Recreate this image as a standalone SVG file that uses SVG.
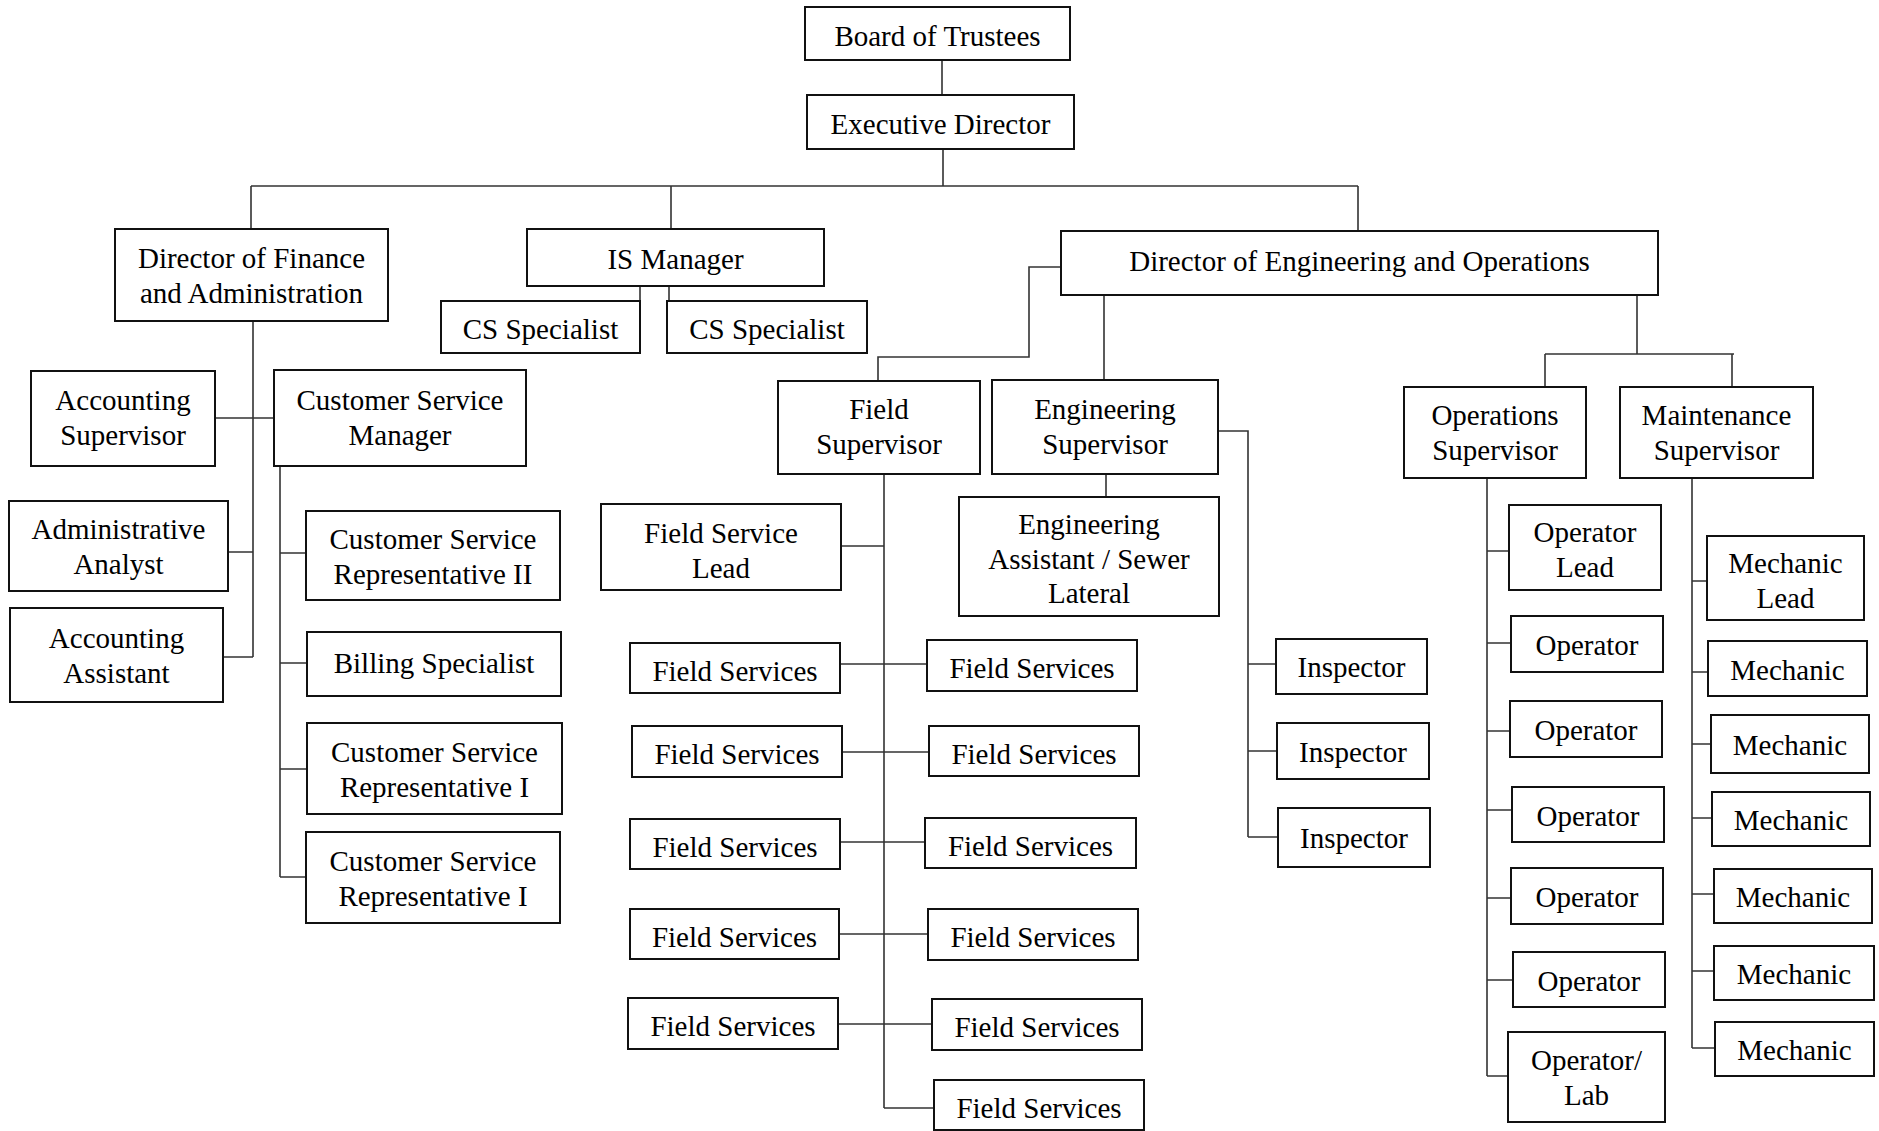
<svg xmlns="http://www.w3.org/2000/svg" width="1879" height="1131" viewBox="0 0 1879 1131">
<style>
.n rect{fill:#fff;stroke:#111;stroke-width:2}
.n text{font-family:"Liberation Serif","Times New Roman",serif;font-size:29px;fill:#000;text-anchor:middle}
#connectors path{fill:none;stroke:#333;stroke-width:1.6}
</style>
<rect width="1879" height="1131" fill="#fff"/>
<g id="connectors">
<path d="M942,60V95M943,149V186M251,186H1358M251,186V229M671,186V229M1358,186V231M640,286V301M669,286V301"/>
<path d="M1061,267H1029V357H878V381M1104,295V380M1637,295V354M1545,354H1734M1545,354V387M1732,354V387"/>
<path d="M253,321V657M215,418H274M228,552H253M223,657H253"/>
<path d="M280,466V877M280,553H306M280,663H307M280,769H307M280,877H306"/>
<path d="M884,474V1108M841,546H884M840,664H927M842,752H929M840,842H925M839,934H928M838,1024H932M884,1108H934"/>
<path d="M1106,474V497M1218,431H1248V837M1248,664H1276M1248,751H1277M1248,837H1278"/>
<path d="M1487,478V1076M1487,551H1509M1487,643H1511M1487,731H1510M1487,810H1512M1487,898H1511M1487,980H1513M1487,1076H1508"/>
<path d="M1692,478V1048M1692,581H1707M1692,672H1708M1692,744H1711M1692,818H1712M1692,894H1714M1692,971H1714M1692,1048H1715"/>
</g>
<g id="board" class="n"><rect x="805" y="7" width="265" height="53"/><text x="937.5" y="45.5">Board of Trustees</text></g>
<g id="exec" class="n"><rect x="807" y="95" width="267" height="54"/><text x="940.5" y="133.5">Executive Director</text></g>
<g id="dirfin" class="n"><rect x="115" y="229" width="273" height="92"/><text x="251.5" y="268">Director of Finance</text><text x="251.5" y="303">and Administration</text></g>
<g id="isman" class="n"><rect x="527" y="229" width="297" height="57"/><text x="675.5" y="268.5">IS Manager</text></g>
<g id="cs1" class="n"><rect x="441" y="301" width="199" height="52"/><text x="540.5" y="339">CS Specialist</text></g>
<g id="cs2" class="n"><rect x="667" y="301" width="200" height="52"/><text x="767" y="339">CS Specialist</text></g>
<g id="direng" class="n"><rect x="1061" y="231" width="597" height="64"/><text x="1359.5" y="271">Director of Engineering and Operations</text></g>
<g id="acctsup" class="n"><rect x="31" y="371" width="184" height="95"/><text x="123" y="410">Accounting</text><text x="123" y="445">Supervisor</text></g>
<g id="csm" class="n"><rect x="274" y="370" width="252" height="96"/><text x="400" y="409.5">Customer Service</text><text x="400" y="444.5">Manager</text></g>
<g id="adminan" class="n"><rect x="9" y="501" width="219" height="90"/><text x="118.5" y="538.5">Administrative</text><text x="118.5" y="573.5">Analyst</text></g>
<g id="acctasst" class="n"><rect x="10" y="608" width="213" height="94"/><text x="116.5" y="647.5">Accounting</text><text x="116.5" y="682.5">Assistant</text></g>
<g id="csr2" class="n"><rect x="306" y="511" width="254" height="89"/><text x="433" y="549">Customer Service</text><text x="433" y="584">Representative II</text></g>
<g id="billing" class="n"><rect x="307" y="632" width="254" height="64"/><text x="434" y="673">Billing Specialist</text></g>
<g id="csr1a" class="n"><rect x="307" y="723" width="255" height="91"/><text x="434.5" y="761.5">Customer Service</text><text x="434.5" y="797">Representative I</text></g>
<g id="csr1b" class="n"><rect x="306" y="832" width="254" height="91"/><text x="433" y="870.5">Customer Service</text><text x="433" y="906">Representative I</text></g>
<g id="fieldsup" class="n"><rect x="778" y="381" width="202" height="93"/><text x="879" y="419">Field</text><text x="879" y="454">Supervisor</text></g>
<g id="engsup" class="n"><rect x="992" y="380" width="226" height="94"/><text x="1105" y="418.5">Engineering</text><text x="1105" y="453.5">Supervisor</text></g>
<g id="engasst" class="n"><rect x="959" y="497" width="260" height="119"/><text x="1089" y="534">Engineering</text><text x="1089" y="568.5">Assistant / Sewer</text><text x="1089" y="603">Lateral</text></g>
<g id="fslead" class="n"><rect x="601" y="504" width="240" height="86"/><text x="721" y="543">Field Service</text><text x="721" y="577.5">Lead</text></g>
<g id="fsl1" class="n"><rect x="630" y="643" width="210" height="50"/><text x="735" y="680.5">Field Services</text></g>
<g id="fsr1" class="n"><rect x="927" y="640" width="210" height="51"/><text x="1032" y="678">Field Services</text></g>
<g id="fsl2" class="n"><rect x="632" y="726" width="210" height="51"/><text x="737" y="764">Field Services</text></g>
<g id="fsr2" class="n"><rect x="929" y="726" width="210" height="50"/><text x="1034" y="763.5">Field Services</text></g>
<g id="fsl3" class="n"><rect x="630" y="819" width="210" height="50"/><text x="735" y="856.5">Field Services</text></g>
<g id="fsr3" class="n"><rect x="925" y="818" width="211" height="50"/><text x="1030.5" y="855.5">Field Services</text></g>
<g id="fsl4" class="n"><rect x="630" y="909" width="209" height="50"/><text x="734.5" y="946.5">Field Services</text></g>
<g id="fsr4" class="n"><rect x="928" y="909" width="210" height="51"/><text x="1033" y="947">Field Services</text></g>
<g id="fsl5" class="n"><rect x="628" y="998" width="210" height="51"/><text x="733" y="1036">Field Services</text></g>
<g id="fsr5" class="n"><rect x="932" y="999" width="210" height="51"/><text x="1037" y="1037">Field Services</text></g>
<g id="fsr6" class="n"><rect x="934" y="1080" width="210" height="50"/><text x="1039" y="1117.5">Field Services</text></g>
<g id="insp1" class="n"><rect x="1276" y="639" width="151" height="55"/><text x="1351.5" y="677">Inspector</text></g>
<g id="insp2" class="n"><rect x="1277" y="723" width="152" height="56"/><text x="1353" y="762">Inspector</text></g>
<g id="insp3" class="n"><rect x="1278" y="808" width="152" height="59"/><text x="1354" y="847.5">Inspector</text></g>
<g id="opsup" class="n"><rect x="1404" y="387" width="182" height="91"/><text x="1495" y="425">Operations</text><text x="1495" y="460">Supervisor</text></g>
<g id="maintsup" class="n"><rect x="1620" y="387" width="193" height="91"/><text x="1716.5" y="424.5">Maintenance</text><text x="1716.5" y="459.5">Supervisor</text></g>
<g id="oplead" class="n"><rect x="1509" y="505" width="152" height="85"/><text x="1585" y="542">Operator</text><text x="1585" y="576.5">Lead</text></g>
<g id="op1" class="n"><rect x="1511" y="616" width="152" height="56"/><text x="1587" y="655">Operator</text></g>
<g id="op2" class="n"><rect x="1510" y="701" width="152" height="56"/><text x="1586" y="740">Operator</text></g>
<g id="op3" class="n"><rect x="1512" y="787" width="152" height="55"/><text x="1588" y="825.5">Operator</text></g>
<g id="op4" class="n"><rect x="1511" y="868" width="152" height="56"/><text x="1587" y="907">Operator</text></g>
<g id="op5" class="n"><rect x="1513" y="952" width="152" height="55"/><text x="1589" y="991">Operator</text></g>
<g id="oplab" class="n"><rect x="1508" y="1032" width="157" height="90"/><text x="1586.5" y="1070">Operator/</text><text x="1586.5" y="1105">Lab</text></g>
<g id="mechlead" class="n"><rect x="1707" y="536" width="157" height="84"/><text x="1785.5" y="573">Mechanic</text><text x="1785.5" y="607.5">Lead</text></g>
<g id="mech1" class="n"><rect x="1708" y="641" width="159" height="55"/><text x="1787.5" y="679.5">Mechanic</text></g>
<g id="mech2" class="n"><rect x="1711" y="715" width="158" height="58"/><text x="1790" y="755">Mechanic</text></g>
<g id="mech3" class="n"><rect x="1712" y="792" width="158" height="54"/><text x="1791" y="830">Mechanic</text></g>
<g id="mech4" class="n"><rect x="1714" y="869" width="158" height="54"/><text x="1793" y="907">Mechanic</text></g>
<g id="mech5" class="n"><rect x="1714" y="946" width="160" height="54"/><text x="1794" y="984">Mechanic</text></g>
<g id="mech6" class="n"><rect x="1715" y="1022" width="159" height="54"/><text x="1794.5" y="1060">Mechanic</text></g>
</svg>
